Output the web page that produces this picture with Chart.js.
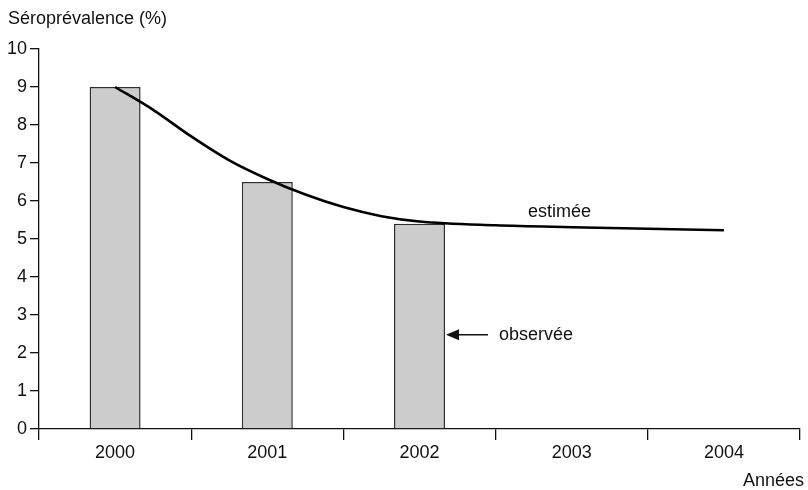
<!DOCTYPE html>
<html>
<head>
<meta charset="utf-8">
<script src="https://cdn.jsdelivr.net/npm/chart.js@4.4.1/dist/chart.umd.min.js"></script>
<style>
  html, body { margin: 0; padding: 0; background: #fff; }
  #wrap { width: 808px; height: 490px; }
</style>
</head>
<body>
<div id="wrap"><canvas id="chart" width="808" height="490"></canvas></div>
<script>
const years = ['2000', '2001', '2002', '2003', '2004'];
const observed = [9.0, 6.5, 5.4, null, null];
// estimated curve at quarter/half-year positions (category index)
const estimatedX = [0, 0.25, 0.5, 0.75, 1, 1.25, 1.5, 1.75, 2, 2.5, 3, 3.5, 4];
const estimatedY = [9.0, 8.4, 7.7, 7.07, 6.58, 6.17, 5.84, 5.6, 5.46, 5.36, 5.31, 5.27, 5.23];
const yTicks = [0, 1, 2, 3, 4, 5, 6, 7, 8, 9, 10];

const yTitle = 'Séroprévalence (%)';
const xTitle = 'Années';
const labelEstimated = 'estimée';
const labelObserved = 'observée';

const FONT = '"Liberation Sans", Arial, Helvetica, sans-serif';
const INK = '#111';

const annotations = {
  id: 'annotations',
  afterDraw(chart) {
    const { ctx, chartArea, scales } = chart;
    const x = scales.x, y = scales.y;
    ctx.save();
    ctx.fillStyle = INK;
    ctx.font = '18px ' + FONT;
    ctx.textBaseline = 'middle';

    ctx.textAlign = 'left';
    ctx.fillText(yTitle, 8, 19);

    ctx.textAlign = 'right';
    ctx.fillText(xTitle, chartArea.right + 4, 481);

    // "estimée" label above the curve
    ctx.textAlign = 'center';
    ctx.fillText(labelEstimated, x.getPixelForValue(2.92), y.getPixelForValue(5.72));

    // "observée" arrow pointing to the 2002 bar
    const bar = chart.getDatasetMeta(0).data[2];
    const tipX = bar.x + bar.width / 2 + 1;
    const ay = y.getPixelForValue(2.48);
    ctx.strokeStyle = INK;
    ctx.lineWidth = 1.4;
    ctx.beginPath();
    ctx.moveTo(tipX + 10, ay);
    ctx.lineTo(tipX + 42, ay);
    ctx.stroke();
    ctx.beginPath();
    ctx.moveTo(tipX, ay);
    ctx.lineTo(tipX + 13, ay - 5.5);
    ctx.lineTo(tipX + 13, ay + 5.5);
    ctx.closePath();
    ctx.fill();
    ctx.textAlign = 'left';
    ctx.fillText(labelObserved, tipX + 53, ay);
    ctx.restore();
  }
};

new Chart(document.getElementById('chart'), {
  data: {
    labels: years,
    datasets: [
      {
        type: 'bar',
        data: observed,
        backgroundColor: '#cccccc',
        borderColor: '#2e2e2e',
        borderWidth: 1.5,
        grouped: false,
        categoryPercentage: 1,
        barPercentage: 0.335,
        order: 2
      },
      {
        type: 'line',
        xAxisID: 'xl',
        data: estimatedX.map((v, i) => ({ x: v, y: estimatedY[i] })),
        borderColor: '#000',
        borderWidth: 2.6,
        pointRadius: 0,
        cubicInterpolationMode: 'monotone',
        fill: false,
        order: 1
      }
    ]
  },
  options: {
    responsive: false,
    animation: false,
    layout: { padding: { top: 49, right: 8, left: 0, bottom: 0 } },
    plugins: {
      legend: { display: false },
      tooltip: { enabled: false }
    },
    scales: {
      x: {
        type: 'category',
        offset: true,
        grid: { offset: true, drawOnChartArea: false, drawTicks: true, tickLength: 11, color: INK, lineWidth: 1.3 },
        border: { display: true, color: INK, width: 1.3 },
        ticks: { color: INK, font: { family: FONT, size: 18 }, padding: 2, maxRotation: 0 },
        afterFit(scale) { scale.height = 61; }
      },
      xl: {
        type: 'linear',
        display: false,
        min: -0.5,
        max: 4.5
      },
      y: {
        min: 0,
        max: 10,
        grid: { drawOnChartArea: false, drawTicks: true, tickLength: 9, color: INK, lineWidth: 1.3 },
        border: { display: true, color: INK, width: 1.3 },
        afterBuildTicks(scale) { scale.ticks = yTicks.map(v => ({ value: v })); },
        ticks: { color: INK, font: { family: FONT, size: 18 }, padding: 3 },
        afterFit(scale) { scale.width = 39; }
      }
    }
  },
  plugins: [annotations]
});
</script>
</body>
</html>
